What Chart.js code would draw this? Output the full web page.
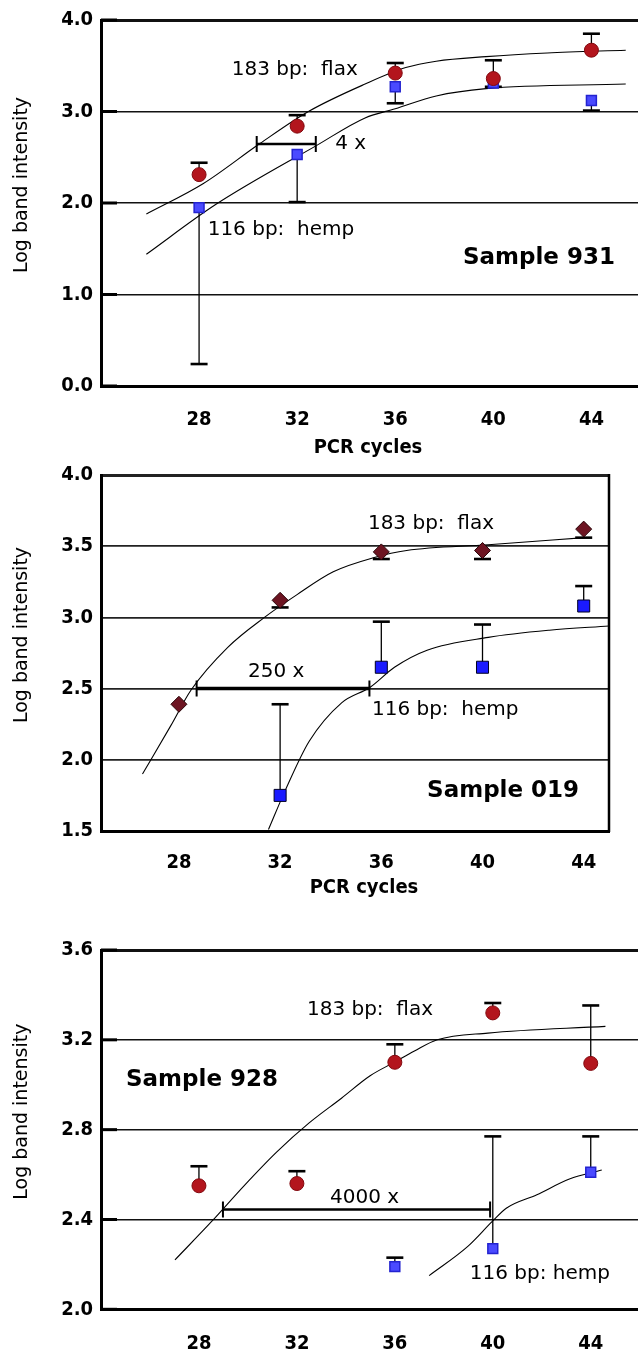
<!DOCTYPE html>
<html><head><meta charset="utf-8">
<script src="https://cdn.jsdelivr.net/npm/chart.js@4.4.0/dist/chart.umd.min.js"></script>
<style>
html,body{margin:0;padding:0;background:#fff;overflow:hidden;width:638px;height:1364px;}
.p{position:absolute;left:0;}
canvas{display:block;}
</style></head><body>
<div class="p" style="top:0"><canvas id="c1" width="638" height="458"></canvas></div>
<div class="p" style="top:455px"><canvas id="c2" width="638" height="443"></canvas></div>
<div class="p" style="top:930px"><canvas id="c3" width="638" height="434"></canvas></div>
<script>
// ---------- shared ----------
const xTickValues = [28, 32, 36, 40, 44];

// ---------- Panel 1: Sample 931 ----------
const p1YTicks = [0, 1, 2, 3, 4];
const p1FlaxCycles = [28, 32, 36, 40, 44];
const p1Flax = [2.31, 2.84, 3.42, 3.36, 3.67];
const p1FlaxErrEnd = [2.44, 2.96, 3.53, 3.56, 3.85];
const p1HempCycles = [28, 32, 36, 40, 44];
const p1Hemp = [1.95, 2.53, 3.27, 3.31, 3.12];
const p1HempErrEnd = [0.24, 2.01, 3.09, 3.27, 3.01];
const p1FlaxFitX = [25.85, 28.16, 30.48, 32.46, 34.77, 36.43, 37.67, 39.7, 42.2, 45.4];
const p1FlaxFitY = [1.88, 2.21, 2.65, 3.00, 3.30, 3.48, 3.55, 3.60, 3.64, 3.67];
const p1HempFitX = [25.85, 28.66, 32.8, 34.77, 36.0, 37.67, 39.7, 45.4];
const p1HempFitY = [1.44, 1.98, 2.63, 2.93, 3.03, 3.17, 3.25, 3.30];
const p1Bracket = [30.35, 32.76, 2.645];

// ---------- Panel 2: Sample 019 ----------
const p2YTicks = [1.5, 2.0, 2.5, 3.0, 3.5, 4.0];
const p2FlaxCycles = [28, 32, 36, 40, 44];
const p2Flax = [2.39, 3.12, 3.46, 3.47, 3.62];
const p2FlaxErrEnd = [null, 3.07, 3.41, 3.41, 3.56];
const p2HempCycles = [32, 36, 40, 44];
const p2Hemp = [1.75, 2.65, 2.65, 3.08];
const p2HempErrEnd = [2.39, 2.97, 2.95, 3.22];
const p2FlaxFitX = [26.56, 27.68, 28.48, 29.93, 31.38, 32.67, 34.1, 35.72, 37.0, 40.23, 44.04];
const p2FlaxFitY = [1.90, 2.24, 2.49, 2.79, 3.00, 3.16, 3.32, 3.42, 3.47, 3.51, 3.56];
const p2HempFitX = [31.54, 32.19, 33.15, 34.43, 35.56, 36.52, 37.81, 40.23, 42.64, 45.0];
const p2HempFitY = [1.51, 1.78, 2.13, 2.40, 2.51, 2.65, 2.77, 2.86, 2.91, 2.94];
const p2Bracket = [28.7, 35.53, 2.5];

// ---------- Panel 3: Sample 928 ----------
const p3YTicks = [2.0, 2.4, 2.8, 3.2, 3.6];
const p3FlaxCycles = [28, 32, 36, 40, 44];
const p3Flax = [2.55, 2.56, 3.10, 3.32, 3.095];
const p3FlaxErrEnd = [2.637, 2.615, 3.18, 3.364, 3.353];
const p3HempCycles = [36, 40, 44];
const p3Hemp = [2.19, 2.27, 2.61];
const p3HempErrEnd = [2.23, 2.77, 2.77];
const p3FlaxFitX = [27.02, 28.51, 29.84, 31.17, 32.5, 33.82, 34.99, 35.98, 36.8, 37.73, 39.8, 44.6];
const p3FlaxFitY = [2.22, 2.39, 2.55, 2.70, 2.83, 2.94, 3.04, 3.10, 3.15, 3.20, 3.23, 3.26];
const p3HempFitX = [37.4, 38.98, 39.97, 40.55, 41.8, 43.13, 44.45];
const p3HempFitY = [2.15, 2.28, 2.39, 2.45, 2.51, 2.58, 2.62];
const p3Bracket = [28.98, 39.89, 2.444];

const SANS = "'DejaVu Sans', sans-serif";
const COND = "'DejaVu Sans Condensed', 'DejaVu Sans', sans-serif";
const pts = (xs, ys) => xs.map((x, i) => ({x, y: ys[i]}));

const overlay = {
  id: 'overlay',
  beforeDatasetsDraw(chart, args, o) {
    const {ctx, scales: {x, y}, chartArea: a} = chart;
    ctx.save();
    ctx.strokeStyle = '#000';
    if (o.frameRight) {
      ctx.lineWidth = 2.5;
      ctx.beginPath(); ctx.moveTo(a.right, a.top - 1); ctx.lineTo(a.right, a.bottom + 1); ctx.stroke();
    }
    if (o.innerTicks) {
      ctx.lineWidth = 3;
      y.ticks.forEach(t => {
        const py = y.getPixelForValue(t.value);
        ctx.beginPath(); ctx.moveTo(a.left, py); ctx.lineTo(a.left + 16, py); ctx.stroke();
      });
    }
    (o.errors || []).forEach(e => {
      e.x.forEach((cx, i) => {
        const end = e.end[i];
        if (end == null) return;
        const px = x.getPixelForValue(cx), py = y.getPixelForValue(e.v[i]), pe = y.getPixelForValue(end);
        ctx.lineWidth = 1.3;
        ctx.beginPath(); ctx.moveTo(px, py); ctx.lineTo(px, pe); ctx.stroke();
        ctx.lineWidth = 2.6;
        ctx.beginPath(); ctx.moveTo(px - 8.5, pe); ctx.lineTo(px + 8.5, pe); ctx.stroke();
      });
    });
    ctx.restore();
  },
  afterDatasetsDraw(chart, args, o) {
    const {ctx, scales: {x, y}, chartArea: a} = chart;
    ctx.save();
    ctx.strokeStyle = '#000'; ctx.fillStyle = '#000';
    if (o.bracket) {
      const [x1, x2, yv] = o.bracket.data;
      const p1 = x.getPixelForValue(x1), p2 = x.getPixelForValue(x2), py = y.getPixelForValue(yv);
      ctx.lineWidth = o.bracket.width;
      ctx.beginPath(); ctx.moveTo(p1, py); ctx.lineTo(p2, py); ctx.stroke();
      ctx.lineWidth = 2;
      ctx.beginPath();
      ctx.moveTo(p1, py - 8); ctx.lineTo(p1, py + 8);
      ctx.moveTo(p2, py - 8); ctx.lineTo(p2, py + 8);
      ctx.stroke();
    }
    (o.texts || []).forEach(t => {
      ctx.font = (t.bold ? 'bold ' : '') + t.size + 'px ' + SANS;
      ctx.textAlign = 'left'; ctx.textBaseline = 'middle';
      ctx.fillText(t.text, x.getPixelForValue(t.x), y.getPixelForValue(t.y));
    });
    // axis titles
    ctx.font = '19px ' + SANS;
    ctx.textAlign = 'center'; ctx.textBaseline = 'middle';
    ctx.save();
    ctx.translate(22, (a.top + a.bottom) / 2 - 18);
    ctx.rotate(-Math.PI / 2);
    ctx.fillText('Log band intensity', 0, 0);
    ctx.restore();
    if (o.xTitle) {
      ctx.font = 'bold 20px ' + COND;
      ctx.fillText('PCR cycles', o.xTitle[0], o.xTitle[1]);
    }
    ctx.restore();
  }
};

function makePanel(id, cfg) {
  new Chart(document.getElementById(id), {
    type: 'scatter',
    data: {
      datasets: [
        Object.assign({data: pts(cfg.flaxX, cfg.flax), showLine: false}, cfg.flaxStyle),
        Object.assign({data: pts(cfg.hempX, cfg.hemp), showLine: false}, cfg.hempStyle),
        {data: pts(cfg.flaxFitX, cfg.flaxFitY), showLine: true, borderColor: '#000', borderWidth: 1.1,
         pointRadius: 0, tension: 0.4, cubicInterpolationMode: 'monotone', fill: false},
        {data: pts(cfg.hempFitX, cfg.hempFitY), showLine: true, borderColor: '#000', borderWidth: 1.1,
         pointRadius: 0, tension: 0.4, cubicInterpolationMode: 'monotone', fill: false}
      ]
    },
    options: {
      responsive: false, animation: false, devicePixelRatio: 1,
      layout: {autoPadding: false, padding: {top: cfg.padTop, right: cfg.padRight, left: 0, bottom: 0}},
      plugins: {
        legend: {display: false}, tooltip: {enabled: false},
        overlay: {
          frameRight: cfg.frameRight, innerTicks: cfg.innerTicks, xTitle: cfg.xTitle,
          errors: [
            {x: cfg.flaxX, v: cfg.flax, end: cfg.flaxErr},
            {x: cfg.hempX, v: cfg.hemp, end: cfg.hempErr}
          ],
          bracket: {data: cfg.bracket, width: cfg.bracketWidth},
          texts: cfg.texts
        }
      },
      scales: {
        x: {
          type: 'linear', min: cfg.xMin, max: cfg.xMax,
          afterBuildTicks: s => { s.ticks = xTickValues.map(v => ({value: v})); },
          afterFit: s => { s.height = cfg.xHeight; s.paddingLeft = 0; s.paddingRight = 0; },
          grid: {display: false},
          border: {display: true, color: '#000', width: 3},
          ticks: {color: '#000', font: {family: COND, size: 20, weight: 'bold'}, padding: cfg.xTickPad, maxRotation: 0,
                  callback: v => String(v)},
          title: {display: false}
        },
        y: {
          type: 'linear', min: cfg.yTicks[0], max: cfg.yTicks[cfg.yTicks.length - 1],
          afterBuildTicks: s => { s.ticks = cfg.yTicks.map(v => ({value: v})); },
          afterFit: s => { s.width = 101; },
          grid: {display: true, color: cfg.gridColor, drawTicks: false,
                 lineWidth: c => (c.tick && c.tick.value === cfg.yTicks[cfg.yTicks.length - 1]) ? 3 : cfg.gridWidth},
          border: {display: true, color: '#000', width: 3},
          ticks: {color: '#000', font: {family: COND, size: 20, weight: 'bold'}, padding: 8,
                  callback: v => Number(v).toFixed(1)},
          title: {display: false}
        }
      }
    },
    plugins: [overlay]
  });
}

const redCircle = {pointStyle: 'circle', pointRadius: 7, backgroundColor: '#b3151d', borderColor: '#82090f', borderWidth: 1};
const blueSquare = {pointStyle: 'rect', pointRadius: 7, backgroundColor: '#4a4aff', borderColor: '#2323d0', borderWidth: 1.5};

makePanel('c1', {
  padTop: 17, padRight: 0, xMin: 24, xMax: 45.9, xHeight: 458 - 386, xTickPad: 14, xTitle: [368, 448],
  yTicks: p1YTicks, gridColor: '#111', gridWidth: 1.4, frameRight: false, innerTicks: true,
  flaxX: p1FlaxCycles, flax: p1Flax, flaxErr: p1FlaxErrEnd,
  hempX: p1HempCycles, hemp: p1Hemp, hempErr: p1HempErrEnd,
  flaxFitX: p1FlaxFitX, flaxFitY: p1FlaxFitY, hempFitX: p1HempFitX, hempFitY: p1HempFitY,
  flaxStyle: redCircle, hempStyle: blueSquare,
  bracket: p1Bracket, bracketWidth: 2.5,
  texts: [
    {text: '183 bp:  flax', x: 29.33, y: 3.46, size: 20},
    {text: '116 bp:  hemp', x: 28.35, y: 1.71, size: 20},
    {text: '4 x', x: 33.55, y: 2.65, size: 20},
    {text: 'Sample 931', x: 38.76, y: 1.395, size: 23, bold: true}
  ]
});

makePanel('c2', {
  padTop: 12.7, padRight: 29, xMin: 24.92, xMax: 45.0, xHeight: 443 - 376, xTickPad: 12, xTitle: [364, 433],
  yTicks: p2YTicks, gridColor: '#222', gridWidth: 1.8, frameRight: true, innerTicks: false,
  flaxX: p2FlaxCycles, flax: p2Flax, flaxErr: p2FlaxErrEnd,
  hempX: p2HempCycles, hemp: p2Hemp, hempErr: p2HempErrEnd,
  flaxFitX: p2FlaxFitX, flaxFitY: p2FlaxFitY, hempFitX: p2HempFitX, hempFitY: p2HempFitY,
  flaxStyle: {pointStyle: 'rectRot', pointRadius: 8, backgroundColor: '#6d1522', borderColor: '#2a0509', borderWidth: 1},
  hempStyle: {pointStyle: 'rect', pointRadius: 8.5, backgroundColor: '#1a1aff', borderColor: '#000022', borderWidth: 1},
  bracket: p2Bracket, bracketWidth: 3.5,
  texts: [
    {text: '183 bp:  flax', x: 35.47, y: 3.66, size: 20},
    {text: '116 bp:  hemp', x: 35.63, y: 2.35, size: 20},
    {text: '250 x', x: 30.73, y: 2.62, size: 20},
    {text: 'Sample 019', x: 37.81, y: 1.78, size: 23, bold: true}
  ]
});

makePanel('c3', {
  padTop: 12.7, padRight: 0, xMin: 24, xMax: 45.93, xHeight: 434 - 379.3, xTickPad: 14, xTitle: null,
  yTicks: p3YTicks, gridColor: '#111', gridWidth: 1.4, frameRight: false, innerTicks: true,
  flaxX: p3FlaxCycles, flax: p3Flax, flaxErr: p3FlaxErrEnd,
  hempX: p3HempCycles, hemp: p3Hemp, hempErr: p3HempErrEnd,
  flaxFitX: p3FlaxFitX, flaxFitY: p3FlaxFitY, hempFitX: p3HempFitX, hempFitY: p3HempFitY,
  flaxStyle: redCircle, hempStyle: blueSquare,
  bracket: p3Bracket, bracketWidth: 2.5,
  texts: [
    {text: '183 bp:  flax', x: 32.41, y: 3.333, size: 20},
    {text: '116 bp: hemp', x: 39.06, y: 2.16, size: 20},
    {text: '4000 x', x: 33.35, y: 2.496, size: 20},
    {text: 'Sample 928', x: 25.02, y: 3.02, size: 23, bold: true}
  ]
});
</script>
</body></html>
